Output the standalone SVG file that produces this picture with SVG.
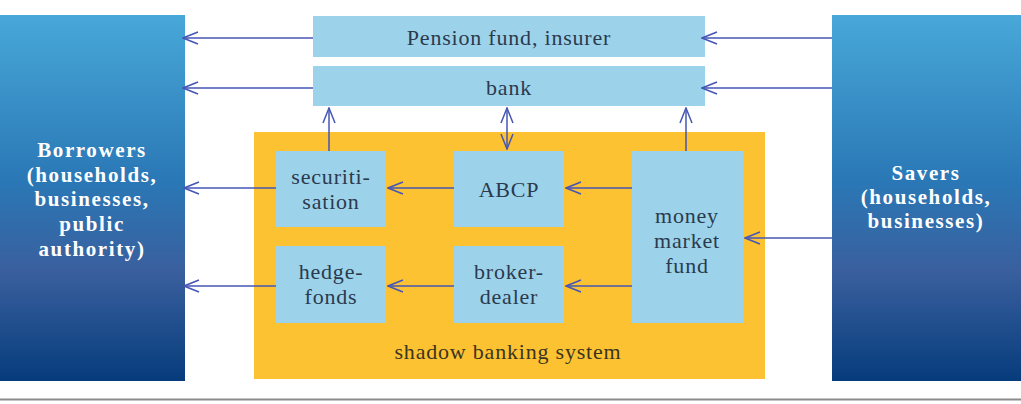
<svg xmlns="http://www.w3.org/2000/svg" width="1021" height="404" viewBox="0 0 1021 404">
<defs>
<linearGradient id="blueGrad" x1="0" y1="0" x2="0" y2="1">
<stop offset="0" stop-color="#48a8d8"/>
<stop offset="0.45" stop-color="#2a78b6"/>
<stop offset="0.7" stop-color="#3a5f9e"/>
<stop offset="1" stop-color="#063c7c"/>
</linearGradient>
<marker id="ah" viewBox="0 0 17 14" refX="16" refY="7" markerWidth="17" markerHeight="14" markerUnits="userSpaceOnUse" orient="auto-start-reverse">
<path d="M1,1 L16,7 L1,13" fill="none" stroke="#4556b5" stroke-width="1.5"/>
</marker>
<style>
.side{fill:url(#blueGrad);}
.sideText{font-family:"Liberation Serif",serif;font-weight:bold;font-size:21px;fill:#ffffff;text-anchor:middle;letter-spacing:1.6px;}
.box{fill:#9dd3ea;}
.boxText{font-family:"Liberation Serif",serif;font-size:22px;fill:#2a3a4e;text-anchor:middle;letter-spacing:0.8px;}
.shadow{fill:#fdc232;}
.conn{stroke:#4556b5;stroke-width:1.5;fill:none;}
</style>
</defs>

<g id="borrowers">
<rect class="side" x="0" y="15" width="185" height="366"/>
<text class="sideText" x="92" y="157">Borrowers</text>
<text class="sideText" x="92" y="182">(households,</text>
<text class="sideText" x="92" y="206">businesses,</text>
<text class="sideText" x="92" y="231">public</text>
<text class="sideText" x="92" y="256">authority)</text>
</g>

<g id="savers">
<rect class="side" x="832" y="15" width="189" height="366"/>
<text class="sideText" x="926" y="180">Savers</text>
<text class="sideText" x="926" y="204">(households,</text>
<text class="sideText" x="926" y="228">businesses)</text>
</g>

<g id="pension">
<rect class="box" x="313" y="16" width="392" height="41"/>
<text class="boxText" x="509" y="45">Pension fund, insurer</text>
</g>

<g id="bank">
<rect class="box" x="313" y="66" width="392" height="40"/>
<text class="boxText" x="509" y="95">bank</text>
</g>

<g id="shadow-banking-system">
<rect class="shadow" x="254" y="132" width="511" height="247"/>
<text class="boxText" x="508" y="359" style="fill:#3a3520">shadow banking system</text>
</g>

<g id="securitisation">
<rect class="box" x="276" y="151" width="110" height="76"/>
<text class="boxText" x="331" y="184">securiti-</text>
<text class="boxText" x="331" y="209">sation</text>
</g>

<g id="abcp">
<rect class="box" x="454" y="151" width="110" height="76"/>
<text class="boxText" x="509" y="197">ABCP</text>
</g>

<g id="money-market-fund">
<rect class="box" x="632" y="151" width="111" height="172"/>
<text class="boxText" x="687" y="223">money</text>
<text class="boxText" x="687" y="248">market</text>
<text class="boxText" x="687" y="273">fund</text>
</g>

<g id="hedge-fonds">
<rect class="box" x="276" y="246" width="110" height="77"/>
<text class="boxText" x="331" y="279">hedge-</text>
<text class="boxText" x="331" y="304">fonds</text>
</g>

<g id="broker-dealer">
<rect class="box" x="454" y="246" width="110" height="77"/>
<text class="boxText" x="509" y="279">broker-</text>
<text class="boxText" x="509" y="304">dealer</text>
</g>

<g id="connectors">
<line class="conn" x1="313" y1="38" x2="183" y2="38" marker-end="url(#ah)"/>
<line class="conn" x1="313" y1="88" x2="183" y2="88" marker-end="url(#ah)"/>
<line class="conn" x1="832" y1="38" x2="702" y2="38" marker-end="url(#ah)"/>
<line class="conn" x1="832" y1="88" x2="702" y2="88" marker-end="url(#ah)"/>
<line class="conn" x1="276" y1="188" x2="184" y2="188" marker-end="url(#ah)"/>
<line class="conn" x1="276" y1="286" x2="184" y2="286" marker-end="url(#ah)"/>
<line class="conn" x1="454" y1="188" x2="388" y2="188" marker-end="url(#ah)"/>
<line class="conn" x1="454" y1="286" x2="388" y2="286" marker-end="url(#ah)"/>
<line class="conn" x1="632" y1="188" x2="566" y2="188" marker-end="url(#ah)"/>
<line class="conn" x1="632" y1="286" x2="566" y2="286" marker-end="url(#ah)"/>
<line class="conn" x1="832" y1="238" x2="745" y2="238" marker-end="url(#ah)"/>
<line class="conn" x1="329" y1="151" x2="329" y2="108" marker-end="url(#ah)"/>
<line class="conn" x1="686" y1="151" x2="686" y2="108" marker-end="url(#ah)"/>
<line class="conn" x1="507" y1="149" x2="507" y2="108" marker-start="url(#ah)" marker-end="url(#ah)"/>
</g>

<line x1="0" y1="399.5" x2="1021" y2="399.5" stroke="#8a8a8a" stroke-width="2"/>
</svg>
